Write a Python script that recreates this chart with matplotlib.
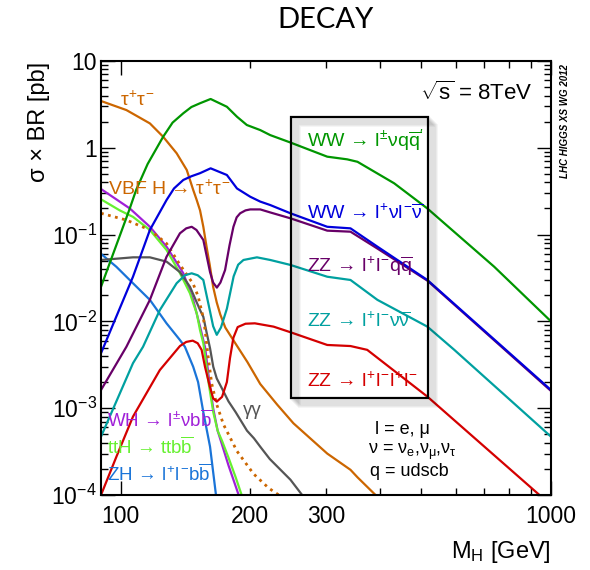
import numpy as np
import matplotlib
matplotlib.use('Agg')
import matplotlib.pyplot as plt
from matplotlib.patches import Rectangle
from matplotlib.ticker import FixedLocator, FixedFormatter, LogLocator, NullFormatter

plt.rcParams['font.family'] = ['Liberation Sans', 'DejaVu Sans']
plt.rcParams['mathtext.fontset'] = 'custom'
plt.rcParams['mathtext.rm'] = 'Liberation Sans'
plt.rcParams['mathtext.it'] = 'Liberation Sans'
plt.rcParams['mathtext.bf'] = 'Liberation Sans:bold'
plt.rcParams['mathtext.sf'] = 'Liberation Sans'

# sigma x BR [pb] versus M_H [GeV], one pair of lists per channel
mh_ww_lvqq = [90, 104.6, 108.7, 115.5, 125.5, 132, 139.8, 146, 152.9, 161.8, 176.5, 186.3, 196.4, 211, 222.6, 248, 302, 336, 355, 432, 516, 738, 1000]
xs_ww_lvqq = [0.025, 0.19, 0.33, 0.65, 1.34, 1.95, 2.5, 2.95, 3.26, 3.65, 2.97, 2.28, 1.83, 1.60, 1.40, 1.15, 0.79, 0.736, 0.69, 0.39, 0.20, 0.0426, 0.01]

mh_ww_lvlv = [90, 106.8, 116.9, 127.8, 133, 139.8, 146, 152.9, 161.8, 176.5, 186.3, 200, 211, 222.6, 248, 302, 342, 395, 516, 1000]
xs_ww_lvlv = [4.3e-3, 0.0327, 0.113, 0.25, 0.34, 0.426, 0.47, 0.51, 0.58, 0.486, 0.34, 0.273, 0.24, 0.219, 0.176, 0.123, 0.118, 0.0726, 0.030, 1.62e-3]

mh_zz_llqq = [90, 103.1, 116.9, 127.8, 137.3, 142, 146.2, 150, 155.6, 161.3, 164, 167.3, 170.5, 174.8, 179, 182.8, 186, 189.5, 195, 200, 211, 222.6, 248, 302, 342, 395, 516, 1000]
xs_zz_llqq = [1.62e-3, 5.1e-3, 0.0177, 0.0556, 0.1035, 0.118, 0.123, 0.113, 0.0867, 0.037, 0.028, 0.0245, 0.028, 0.039, 0.075, 0.123, 0.158, 0.176, 0.19, 0.195, 0.195, 0.18, 0.154, 0.111, 0.108, 0.069, 0.0295, 1.58e-3]

mh_zz_llvv = [90, 106.8, 112.7, 123.3, 134.9, 141, 146.2, 151, 155.6, 161.3, 164, 167.2, 171, 176.5, 183, 187.5, 192.9, 207.3, 222.6, 248, 302, 342, 395, 516, 596, 1000]
xs_zz_llvv = [4.7e-4, 3.3e-3, 5.1e-3, 0.0135, 0.0275, 0.034, 0.0358, 0.034, 0.030, 0.013, 8.8e-3, 7.0e-3, 8.5e-3, 0.014, 0.033, 0.045, 0.051, 0.0547, 0.051, 0.0447, 0.0327, 0.030, 0.0177, 8.7e-3, 4.7e-3, 4.7e-4]

mh_zz_4l = [90, 97.7, 106.8, 123.3, 137.3, 142, 147, 151, 154.2, 157, 161, 164, 167.2, 172, 176.5, 179.5, 182.8, 187, 195, 205, 226.6, 248, 302, 342, 374, 516, 940]
xs_zz_4l = [1e-4, 2.75e-4, 8e-4, 2.75e-3, 5.2e-3, 5.8e-3, 6.0e-3, 5.6e-3, 4.7e-3, 3.0e-3, 1.8e-3, 1.3e-3, 1.19e-3, 1.35e-3, 2.0e-3, 3.8e-3, 6.5e-3, 8.6e-3, 9.4e-3, 9.5e-3, 8.7e-3, 7.5e-3, 5.35e-3, 5.2e-3, 4.7e-3, 1.36e-3, 1e-4]

mh_tautau = [90, 103.1, 116.9, 125.5, 134.9, 142.4, 147.4, 150.2, 152.9, 155.6, 158.5, 161, 164, 167.2, 170.4, 175, 183, 197, 211, 231, 252, 302, 342, 355, 391]
xs_tautau = [3.46, 2.72, 1.91, 1.34, 0.865, 0.555, 0.327, 0.25, 0.19, 0.123, 0.07, 0.045, 0.025, 0.0165, 0.012, 8.5e-3, 6.0e-3, 3.4e-3, 1.9e-3, 1.1e-3, 6.7e-4, 3.0e-4, 1.95e-4, 1.6e-4, 1e-4]

mh_vbf_tautau = [90, 103.1, 116.9, 127.8, 137.3, 147.4, 151.3, 155.6, 157.1, 159.7, 162.8, 167.2, 173.3, 186.3, 203.6, 220.8, 233]
xs_vbf_tautau = [0.176, 0.147, 0.113, 0.079, 0.045, 0.027, 0.0195, 0.011, 7.9e-3, 3.9e-3, 1.9e-3, 1.1e-3, 6.5e-4, 3.2e-4, 1.75e-4, 1.2e-4, 1.0e-4]

mh_gamgam = [90, 106.8, 116.9, 127.8, 137.3, 144.9, 152.9, 155.6, 158.5, 161.3, 164.1, 167.2, 171.8, 178, 185, 196.6, 204, 211, 222, 248, 264]
xs_gamgam = [0.051, 0.0547, 0.0547, 0.0488, 0.037, 0.025, 0.0135, 0.0113, 7.3e-3, 4.9e-3, 3.0e-3, 2.2e-3, 1.7e-3, 1.2e-3, 9e-4, 5.5e-4, 4.5e-4, 3.6e-4, 2.6e-4, 1.5e-4, 1e-4]

mh_wh = [90, 105, 116.9, 127.8, 139.8, 147.4, 152.9, 157.1, 160, 164, 168, 172, 178, 188]
xs_wh = [0.335, 0.2, 0.123, 0.0726, 0.0358, 0.0177, 8.7e-3, 5e-3, 2.4e-3, 1.0e-3, 5.5e-4, 3.8e-4, 2.2e-4, 1e-4]

mh_tth = [90, 99.5, 106.8, 116.9, 127.8, 137.3, 144.9, 147.4, 150.2, 152.9, 155.6, 157.1, 159.7, 164.1, 168, 172, 178, 185, 191]
xs_tth = [0.255, 0.19, 0.16, 0.113, 0.0665, 0.036, 0.021, 0.0162, 0.0124, 7.9e-3, 5.6e-3, 4.0e-3, 2.1e-3, 9e-4, 5.5e-4, 4.2e-4, 2.7e-4, 1.6e-4, 1e-4]

mh_zh = [90, 97.7, 106.8, 116.9, 127.8, 137.3, 141, 147.4, 151.3, 155.6, 161.3, 166.5]
xs_zh = [0.06, 0.0426, 0.0275, 0.0177, 9.5e-3, 6.1e-3, 5.1e-3, 3e-3, 2.0e-3, 9e-4, 3.6e-4, 1e-4]

y_ticks = [1e-4, 1e-3, 1e-2, 1e-1, 1, 10]
y_ticklabels = ['$10^{-4}$', '$10^{-3}$', '$10^{-2}$', '$10^{-1}$', '1', '10']
x_major = [100, 1000]
x_major_labels = ['100', '1000']
x_minor = [200, 300, 400, 500, 600, 700, 800, 900]
x_minor_labels = ['200', '300', '', '', '', '', '', '']

c_green = '#009600'
c_blue = '#0000dc'
c_purple = '#680068'
c_teal = '#00a0a0'
c_red = '#d40000'
c_orange = '#cc6600'
c_gray = '#555555'
c_violet = '#a020d8'
c_lime = '#66f030'
c_zh = '#1a74d8'

fig = plt.figure(figsize=(5.9, 5.7), dpi=100)
ax = fig.add_axes([0.1712, 0.1316, 0.7627, 0.7614])

lw = 1.6
ax.plot(mh_zh, xs_zh, color=c_zh, lw=lw)
ax.plot(mh_wh, xs_wh, color=c_violet, lw=lw)
ax.plot(mh_tth, xs_tth, color=c_lime, lw=lw)
ax.plot(mh_gamgam, xs_gamgam, color=c_gray, lw=lw)
ax.plot(mh_vbf_tautau, xs_vbf_tautau, color=c_orange, lw=2.0, ls=(0, (1, 1.6)))
ax.plot(mh_tautau, xs_tautau, color=c_orange, lw=lw)
ax.plot(mh_zz_4l, xs_zz_4l, color=c_red, lw=lw)
ax.plot(mh_zz_llvv, xs_zz_llvv, color=c_teal, lw=lw)
ax.plot(mh_zz_llqq, xs_zz_llqq, color=c_purple, lw=lw)
ax.plot(mh_ww_lvlv, xs_ww_lvlv, color=c_blue, lw=lw)
ax.plot(mh_ww_lvqq, xs_ww_lvqq, color=c_green, lw=lw)

ax.set_xscale('log')
ax.set_yscale('log')
ax.set_xlim(90, 1000)
ax.set_ylim(1e-4, 10)

ax.xaxis.set_major_locator(FixedLocator(x_major))
ax.xaxis.set_major_formatter(FixedFormatter(x_major_labels))
ax.xaxis.set_minor_locator(FixedLocator(x_minor))
ax.xaxis.set_minor_formatter(FixedFormatter(x_minor_labels))
ax.yaxis.set_major_locator(FixedLocator(y_ticks))
ax.yaxis.set_major_formatter(FixedFormatter(y_ticklabels))
ax.yaxis.set_minor_locator(LogLocator(base=10, subs=np.arange(2, 10), numticks=20))
ax.yaxis.set_minor_formatter(NullFormatter())

ax.tick_params(which='both', direction='in', top=True, right=True, width=1.0, labelsize=16.5)
ax.tick_params(which='major', length=10)
ax.tick_params(which='minor', length=5)
ax.tick_params(axis='x', which='both', pad=7)
ax.tick_params(axis='y', which='both', pad=3)
for s in ax.spines.values():
    s.set_linewidth(1.5)

# framed box around the WW / ZZ channel labels, with a soft drop shadow
bx0, by0, bx1, by1 = 0.422, 0.224, 0.726, 0.870
for k in range(1, 9):
    dx, dy = k / 450, -k / 434
    ax.add_patch(Rectangle((bx0 + dx, by0 + dy), bx1 - bx0, by1 - by0, transform=ax.transAxes,
                           fill=False, ec='black', lw=2.0, alpha=0.045, zorder=4))
ax.add_patch(Rectangle((bx0, by0), bx1 - bx0, by1 - by0, transform=ax.transAxes,
                       fill=False, ec='black', lw=1.6, zorder=5))

lx = 0.458
fs = 14
ax.text(lx, 0.816, "WW → $l^{\\pm}\\nu q\\overline{q}'$", color=c_green, fontsize=fs, transform=ax.transAxes, va='center', zorder=6)
ax.text(lx, 0.652, 'WW → $l^{+}\\nu l^{-}\\overline{\\nu}$', color=c_blue, fontsize=fs, transform=ax.transAxes, va='center', zorder=6)
ax.text(lx, 0.528, 'ZZ → $l^{+}l^{-}q\\overline{q}$', color=c_purple, fontsize=fs, transform=ax.transAxes, va='center', zorder=6)
ax.text(lx, 0.403, 'ZZ → $l^{+}l^{-}\\nu\\overline{\\nu}$', color=c_teal, fontsize=fs, transform=ax.transAxes, va='center', zorder=6)
ax.text(lx, 0.263, 'ZZ → $l^{+}l^{-}l^{+}l^{-}$', color=c_red, fontsize=fs, transform=ax.transAxes, va='center', zorder=6)

ax.text(0.042, 0.910, '$\\tau^{+}\\tau^{-}$', color=c_orange, fontsize=14, transform=ax.transAxes, va='center')
ax.text(0.016, 0.705, 'VBF H → $\\tau^{+}\\tau^{-}$', color=c_orange, fontsize=14, transform=ax.transAxes, va='center')
ax.text(0.013, 0.173, 'WH → $l^{\\pm}\\nu b\\overline{b}$', color=c_violet, fontsize=13.5, transform=ax.transAxes, va='center')
ax.text(0.013, 0.111, 'ttH → $ttb\\overline{b}$', color=c_lime, fontsize=13.5, transform=ax.transAxes, va='center')
ax.text(0.013, 0.048, 'ZH → $l^{+}l^{-}b\\overline{b}$', color=c_zh, fontsize=13.5, transform=ax.transAxes, va='center')
ax.text(0.316, 0.194, 'γγ', color=c_gray, fontsize=13.5, transform=ax.transAxes, va='center')

ax.text(0.96, 0.926, '$\\sqrt{s}$ = 8TeV', fontsize=16, transform=ax.transAxes, ha='right', va='center')
ax.text(0.609, 0.150, 'l = e, μ', fontsize=13, transform=ax.transAxes, va='center')
ax.text(0.593, 0.0985, '$\\nu$ = $\\nu_{e}$,$\\nu_{\\mu}$,$\\nu_{\\tau}$', fontsize=13, transform=ax.transAxes, va='center')
ax.text(0.598, 0.053, 'q = udscb', fontsize=13, transform=ax.transAxes, va='center')

fig.text(565 / 590, 1 - 121 / 570, 'LHC HIGGS XS WG 2012', rotation=90, fontsize=7,
         fontweight='bold', fontstyle='italic', ha='center', va='center')

fig.text(39 / 590, 1 - 62 / 570, 'σ × BR [pb]', rotation=90, fontsize=17, ha='center', va='top')
fig.text(551 / 590, (570 - 558) / 570, 'M$_{H}$ [GeV]', fontsize=17, ha='right', va='baseline')
fig.text(326 / 590, 1 - 20 / 570, 'DECAY', fontsize=21, family='Lato', ha='center', va='center')

plt.savefig('out.png', dpi=100)
